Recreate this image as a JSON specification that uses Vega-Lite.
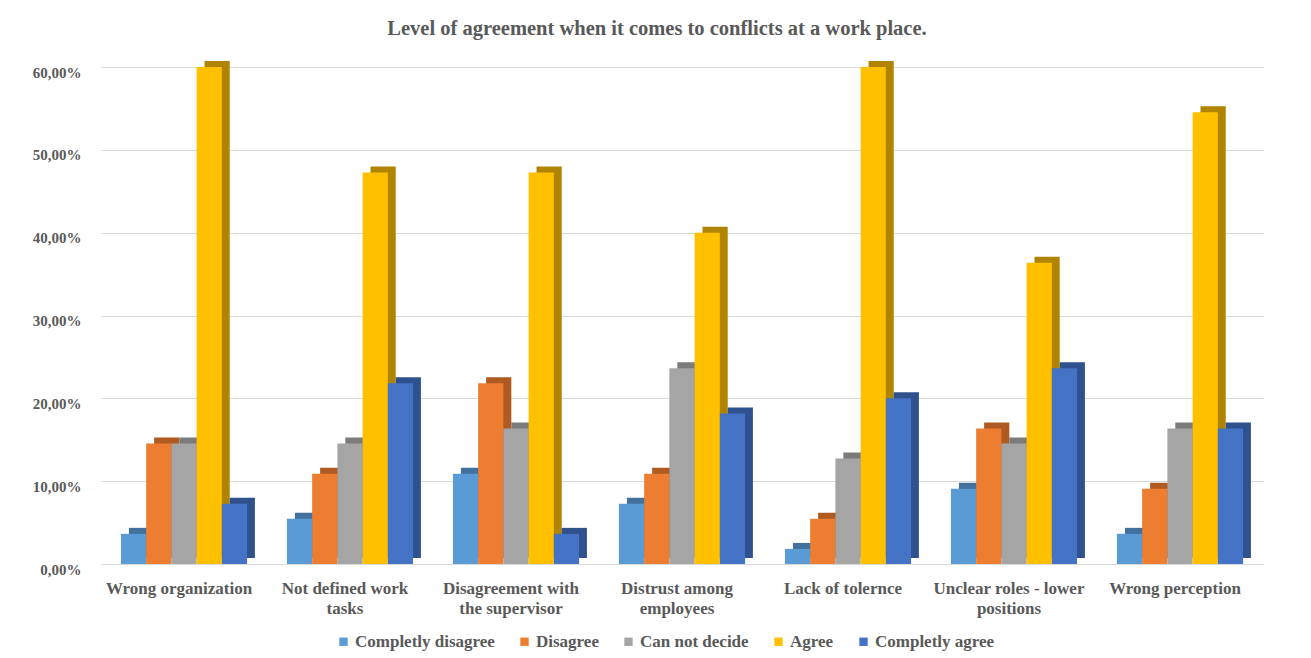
{
  "$schema": "https://vega.github.io/schema/vega-lite/v6.json",
  "width": 1162,
  "height": 497,
  "autosize": {"type": "none"},
  "padding": {"left": 101, "top": 67, "right": 48, "bottom": 94},
  "background": "white",
  "config": {
    "font": "Liberation Serif, Times New Roman, serif",
    "view": {"stroke": null}
  },
  "title": {
    "text": "Level of agreement when it comes to conflicts at a work place.",
    "fontSize": 20.5,
    "fontWeight": "bold",
    "color": "#595959",
    "font": "Liberation Serif, Times New Roman, serif",
    "offset": 22,
    "dx": -25
  },
  "data": {
    "values": [
      {"category": "Wrong organization", "series": "Completly disagree", "value": 0.0364},
      {"category": "Wrong organization", "series": "Disagree", "value": 0.1455},
      {"category": "Wrong organization", "series": "Can not decide", "value": 0.1455},
      {"category": "Wrong organization", "series": "Agree", "value": 0.6},
      {"category": "Wrong organization", "series": "Completly agree", "value": 0.0727},
      {"category": "Not defined work tasks", "series": "Completly disagree", "value": 0.0545},
      {"category": "Not defined work tasks", "series": "Disagree", "value": 0.1091},
      {"category": "Not defined work tasks", "series": "Can not decide", "value": 0.1455},
      {"category": "Not defined work tasks", "series": "Agree", "value": 0.4727},
      {"category": "Not defined work tasks", "series": "Completly agree", "value": 0.2182},
      {"category": "Disagreement with the supervisor", "series": "Completly disagree", "value": 0.1091},
      {"category": "Disagreement with the supervisor", "series": "Disagree", "value": 0.2182},
      {"category": "Disagreement with the supervisor", "series": "Can not decide", "value": 0.1636},
      {"category": "Disagreement with the supervisor", "series": "Agree", "value": 0.4727},
      {"category": "Disagreement with the supervisor", "series": "Completly agree", "value": 0.0364},
      {"category": "Distrust among employees", "series": "Completly disagree", "value": 0.0727},
      {"category": "Distrust among employees", "series": "Disagree", "value": 0.1091},
      {"category": "Distrust among employees", "series": "Can not decide", "value": 0.2364},
      {"category": "Distrust among employees", "series": "Agree", "value": 0.4},
      {"category": "Distrust among employees", "series": "Completly agree", "value": 0.1818},
      {"category": "Lack of tolernce", "series": "Completly disagree", "value": 0.0182},
      {"category": "Lack of tolernce", "series": "Disagree", "value": 0.0545},
      {"category": "Lack of tolernce", "series": "Can not decide", "value": 0.1273},
      {"category": "Lack of tolernce", "series": "Agree", "value": 0.6},
      {"category": "Lack of tolernce", "series": "Completly agree", "value": 0.2},
      {"category": "Unclear roles - lower positions", "series": "Completly disagree", "value": 0.0909},
      {"category": "Unclear roles - lower positions", "series": "Disagree", "value": 0.1636},
      {"category": "Unclear roles - lower positions", "series": "Can not decide", "value": 0.1455},
      {"category": "Unclear roles - lower positions", "series": "Agree", "value": 0.3636},
      {"category": "Unclear roles - lower positions", "series": "Completly agree", "value": 0.2364},
      {"category": "Wrong perception", "series": "Completly disagree", "value": 0.0364},
      {"category": "Wrong perception", "series": "Disagree", "value": 0.0909},
      {"category": "Wrong perception", "series": "Can not decide", "value": 0.1636},
      {"category": "Wrong perception", "series": "Agree", "value": 0.5455},
      {"category": "Wrong perception", "series": "Completly agree", "value": 0.1636}
    ]
  },
  "encoding": {
    "x": {
      "field": "category",
      "type": "nominal",
      "sort": null,
      "scale": {"paddingInner": 0.24, "paddingOuter": 0.12},
      "axis": {
        "title": null,
        "labelAngle": 0,
        "labelFont": "Liberation Serif, Times New Roman, serif",
        "labelFontSize": 17,
        "labelFontWeight": "bold",
        "labelColor": "#595959",
        "labelPadding": 16,
        "labelLineHeight": 20,
        "labelLimit": 300,
        "labelOffset": -5,
        "domain": false,
        "ticks": false,
        "grid": false,
        "labelExpr": "datum.label == 'Not defined work tasks' ? ['Not defined work', 'tasks'] : datum.label == 'Disagreement with the supervisor' ? ['Disagreement with', 'the supervisor'] : datum.label == 'Distrust among employees' ? ['Distrust among', 'employees'] : datum.label == 'Unclear roles - lower positions' ? ['Unclear roles - lower', 'positions'] : datum.label"
      }
    },
    "y": {
      "field": "value",
      "type": "quantitative",
      "scale": {"domain": [0, 0.6], "nice": false},
      "axis": {
        "title": null,
        "values": [0, 0.1, 0.2, 0.3, 0.4, 0.5, 0.6],
        "labelExpr": "replace(format(datum.value, '.2%'), '.', ',')",
        "labelFont": "Liberation Serif, Times New Roman, serif",
        "labelFontSize": 15,
        "labelFontWeight": "bold",
        "labelColor": "#595959",
        "labelPadding": 20,
        "labelOffset": 5,
        "domain": false,
        "ticks": false,
        "gridColor": "#D9D9D9",
        "gridWidth": 1
      }
    }
  },
  "layer": [
    {
      "mark": {"type": "bar", "yOffset": -6, "y2Offset": -6},
      "encoding": {
        "xOffset": {
          "field": "series",
          "type": "nominal",
          "sort": ["Completly disagree", "Disagree", "Can not decide", "Agree", "Completly agree"],
          "scale": {"paddingInner": 0, "paddingOuter": 0, "range": [8, 134]}
        },
        "color": {
          "field": "series",
          "type": "nominal",
          "scale": {
            "domain": ["Completly disagree", "Disagree", "Can not decide", "Agree", "Completly agree"],
            "range": ["#41719C", "#AE5A21", "#7B7B7B", "#B08400", "#2F528F"]
          },
          "legend": null
        }
      }
    },
    {
      "mark": {"type": "bar"},
      "encoding": {
        "xOffset": {
          "field": "series",
          "type": "nominal",
          "sort": ["Completly disagree", "Disagree", "Can not decide", "Agree", "Completly agree"],
          "scale": {"paddingInner": 0, "paddingOuter": 0}
        },
        "color": {
          "field": "series",
          "type": "nominal",
          "scale": {
            "domain": ["Completly disagree", "Disagree", "Can not decide", "Agree", "Completly agree"],
            "range": ["#5B9BD5", "#ED7D31", "#A5A5A5", "#FFC000", "#4472C4"]
          },
          "legend": {
            "title": null,
            "orient": "none",
            "legendX": 234,
            "legendY": 566,
            "direction": "horizontal",
            "symbolType": "square",
            "symbolSize": 70,
            "symbolStrokeWidth": 0,
            "labelFont": "Liberation Serif, Times New Roman, serif",
            "labelFontSize": 17,
            "labelFontWeight": "bold",
            "labelColor": "#595959",
            "labelOffset": 3,
            "columnPadding": 21
          }
        }
      }
    }
  ],
  "resolve": {"scale": {"color": "independent", "xOffset": "independent"}}
}
